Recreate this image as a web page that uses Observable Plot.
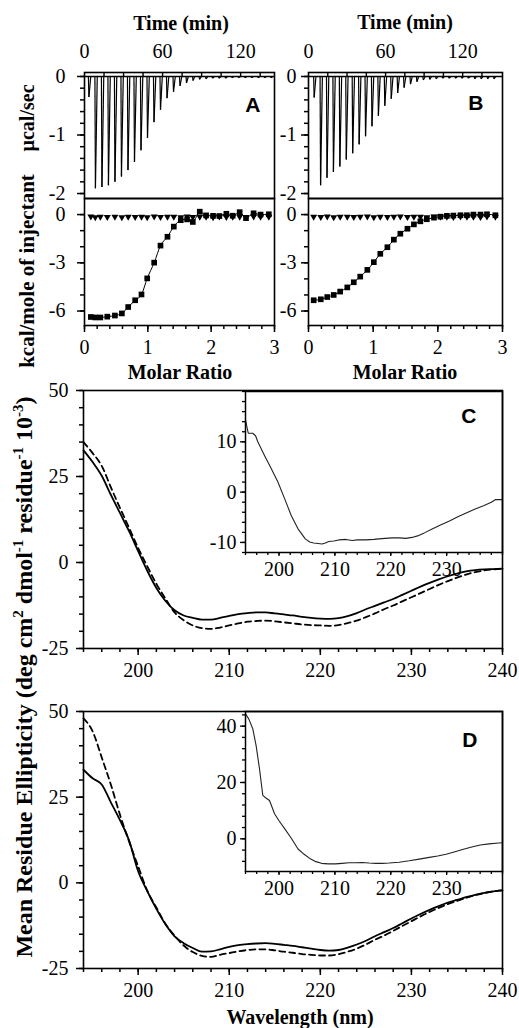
<!DOCTYPE html>
<html><head><meta charset="utf-8">
<script src="https://cdn.jsdelivr.net/npm/d3@7"></script>
<script src="https://cdn.jsdelivr.net/npm/@observablehq/plot@0.6"></script>
<style>
body{margin:0;background:#fff;}
#fig{position:relative;width:519px;height:1028px;overflow:hidden;font-family:"Liberation Serif","Times New Roman",serif;color:#000;background:#fff;}
.lbl{position:absolute;font-family:"Liberation Serif","Times New Roman",serif;font-weight:bold;font-size:20px;white-space:nowrap;transform:translate(-50%,-50%);line-height:1;}
.rot{transform:translate(-50%,-50%) rotate(-90deg);}
.mid{font-size:21px;}
.big{font-size:24px;}
.lbl sup{font-size:15px;vertical-align:9px;line-height:0;}
</style></head><body><div id="fig"></div>
<script>
// ---------------- DATA ----------------
// ITC thermograms (injection time, min; peak depth, µcal/sec)
const A_TIME = [3,8,13,18,23,28,33,38,43,48,53,58,63,68,73,78,83,88,93,98,103,108,113,118,123,128,133,138,143];
const A_PEAK = [-0.35,-1.91,-1.89,-1.86,-1.80,-1.71,-1.60,-1.46,-1.26,-1.05,-0.78,-0.57,-0.37,-0.26,-0.16,-0.11,-0.07,-0.05,-0.04,-0.03,-0.03,-0.03,-0.02,-0.02,-0.02,-0.02,-0.02,-0.02,-0.02];
const B_TIME = [4,9,14,19,24,29,34,39,44,49,54,59,64,69,74,79,84,89,94,99,104,109,114,119,124,129,134,139,144];
const B_PEAK = [-0.36,-1.86,-1.73,-1.63,-1.54,-1.42,-1.31,-1.16,-1.02,-0.85,-0.67,-0.50,-0.38,-0.28,-0.19,-0.13,-0.09,-0.06,-0.05,-0.04,-0.03,-0.03,-0.03,-0.03,-0.03,-0.04,-0.04,-0.04,-0.04];
// ITC isotherms (molar ratio; kcal/mole of injectant)
const A_MR = [0.10,0.17,0.25,0.36,0.48,0.59,0.69,0.80,0.90,0.99,1.10,1.20,1.31,1.41,1.52,1.62,1.71,1.82,1.92,2.03,2.13,2.24,2.34,2.45,2.55,2.67,2.78,2.91];
const A_HEAT = [-6.37,-6.40,-6.40,-6.35,-6.28,-6.15,-5.75,-5.33,-4.97,-3.97,-2.99,-1.93,-1.38,-0.75,-0.35,-0.30,-0.46,0.18,-0.05,-0.08,-0.09,0.05,-0.07,0.15,-0.22,0.08,0.00,0.02];
const A_CTRL = [-0.12,-0.16,-0.13,-0.15,-0.14,-0.16,-0.13,-0.15,-0.14,-0.16,-0.12,-0.15,-0.14,-0.13,-0.16,-0.12,-0.15,-0.13,-0.14,-0.16,-0.12,-0.15,-0.13,-0.14,-0.15,-0.12,-0.14,-0.13];
const B_MR = [0.08,0.19,0.29,0.39,0.49,0.60,0.70,0.80,0.91,1.01,1.11,1.22,1.32,1.42,1.53,1.63,1.73,1.83,1.94,2.04,2.14,2.24,2.35,2.45,2.55,2.66,2.76,2.89];
const B_HEAT = [-5.33,-5.27,-5.13,-5.00,-4.79,-4.53,-4.21,-3.86,-3.44,-2.96,-2.44,-2.03,-1.56,-1.19,-0.88,-0.61,-0.42,-0.29,-0.19,-0.13,-0.08,-0.06,-0.04,-0.04,0.00,0.00,0.02,-0.04];
const B_CTRL = [-0.13,-0.15,-0.12,-0.16,-0.14,-0.13,-0.15,-0.14,-0.12,-0.16,-0.13,-0.15,-0.14,-0.12,-0.15,-0.13,-0.14,-0.16,-0.12,-0.14,-0.13,-0.15,-0.12,-0.14,-0.13,-0.15,-0.12,-0.14];
// CD spectra (wavelength nm; mean residue ellipticity ×10^-3)
const WL = [194,195,196,197,198,199,200,201,202,203,204,205,206,207,208,209,210,211,212,213,214,215,216,217,218,219,220,221,222,223,224,225,226,227,228,229,230,231,232,233,234,235,236,237,238,239,240];
const C_SOLID = [32.6,29.2,25.2,19.7,14.4,9.1,3.3,-2.4,-7.4,-11.2,-13.9,-15.4,-16.1,-16.6,-16.6,-16.1,-15.5,-15.0,-14.7,-14.5,-14.5,-14.8,-15.1,-15.4,-15.8,-16.1,-16.3,-16.4,-16.2,-15.6,-14.7,-13.6,-12.6,-11.6,-10.6,-9.4,-8.2,-7.0,-5.9,-4.9,-4.0,-3.2,-2.6,-2.2,-2.0,-1.9,-1.8];
const C_DASH = [35.0,31.8,28.1,21.9,15.9,10.1,4.2,-1.1,-6.2,-10.5,-14.5,-16.8,-18.3,-19.1,-19.3,-18.9,-18.3,-17.7,-17.2,-17.0,-16.9,-17.1,-17.4,-17.7,-18.0,-18.2,-18.3,-18.4,-18.2,-17.6,-16.9,-15.9,-14.8,-13.6,-12.5,-11.3,-10.1,-8.9,-7.7,-6.5,-5.4,-4.4,-3.5,-2.8,-2.3,-2.0,-1.8];
const D_SOLID = [33.0,30.5,28.7,23.5,18.3,12.4,3.4,-2.4,-7.6,-12.1,-15.6,-17.6,-19.0,-20.1,-20.0,-19.4,-18.7,-18.2,-17.9,-17.7,-17.6,-17.8,-18.1,-18.4,-18.8,-19.2,-19.6,-19.8,-19.6,-18.9,-18.0,-16.9,-15.6,-14.4,-13.2,-11.8,-10.4,-9.1,-7.9,-6.8,-5.8,-5.0,-4.2,-3.5,-2.9,-2.5,-2.2];
const D_DASH = [48.0,44.2,36.6,28.7,19.9,12.1,4.8,-2.3,-7.2,-12.0,-15.4,-18.3,-20.2,-21.3,-21.6,-21.0,-20.5,-20.0,-19.6,-19.4,-19.4,-19.7,-20.1,-20.4,-20.8,-21.0,-21.2,-21.2,-20.8,-20.1,-19.2,-18.0,-16.6,-15.4,-14.0,-12.6,-11.2,-9.8,-8.5,-7.3,-6.2,-5.3,-4.4,-3.6,-3.0,-2.5,-2.2];
// insets (difference spectra)
const IC_WL = [194,194.5,195.3,195.8,196.2,197.4,198.6,199.8,201,202.2,203.4,204.7,205.5,206.2,207.0,207.7,208.3,208.9,209.8,210.7,212,213.1,214,215.5,217,217.9,219,220.3,221.5,222.7,223.8,224.8,226,227.5,229,230.6,232,233.6,235,236.6,238,238.7,240];
const IC_Y = [14.3,11.7,11.7,11.2,10.0,7.3,4.7,2.0,-1.3,-4.7,-7.3,-9.3,-9.9,-10.1,-10.2,-10.3,-10.1,-9.8,-9.7,-9.5,-9.4,-9.6,-9.5,-9.5,-9.4,-9.3,-9.2,-9.1,-9.1,-9.2,-9.0,-8.7,-8.1,-7.3,-6.5,-5.7,-4.9,-4.1,-3.4,-2.7,-2.0,-1.5,-1.5];
const ID_WL = [194,194.6,195.3,195.9,196.5,197.1,197.6,198.3,199.2,200,201,202.2,203.4,204.5,205.6,206.6,207.6,208.8,210.1,211.3,212.5,213.7,214.9,216.1,217.3,218.5,219.7,221.5,223.3,225.1,226.9,228.4,229.9,231.5,233,234.5,236,237.6,239.3,240];
const ID_Y = [44.4,42.5,39.1,33.1,24.9,15.4,14.6,13.6,8.9,6.4,3.6,0.2,-3.6,-5.5,-7.1,-8.1,-8.7,-8.9,-8.9,-8.7,-8.5,-8.5,-8.4,-8.6,-8.7,-8.7,-8.6,-8.3,-7.8,-7.2,-6.6,-6.1,-5.5,-4.6,-3.7,-2.9,-2.2,-1.8,-1.5,-1.4];
// tick labels
const TIME_TICKS = [0,60,120];
const TIME_BOX = [15,30,45,60,75,90,105,120,135];
const UCAL_TICKS = [0,-1,-2];
const KCAL_TICKS = [0,-3,-6];
const MR_TICKS = [0,1,2,3];
const WL_TICKS = [200,210,220,230,240];
const INSET_WL_TICKS = [200,210,220,230];
const MRE_TICKS = [-25,0,25,50];
const IC_TICKS = [-10,0,10];
const ID_TICKS = [0,20,40];

// ---------------- DRAWING ----------------
const fig = document.getElementById("fig");
const SERIF = "'Liberation Serif','Times New Roman',serif";
const STYLE = {background:"none", overflow:"visible", fontFamily:SERIF, fontSize:"20px", color:"black"};
const AX = {fontSize:20, fontFamily:SERIF, label:null};
const fmt = d => String(d);
const blank = () => "";
const LETTER = {frameAnchor:"top-right", lineAnchor:"top", textAnchor:"end", fontFamily:"'Liberation Sans',Arial,sans-serif", fontWeight:"bold", fontSize:21};
const TRI_DOWN = {draw(ctx, size){const a=Math.sqrt(size*4/Math.sqrt(3)), h=a*Math.sqrt(3)/2; ctx.moveTo(-a/2,-h/3); ctx.lineTo(a/2,-h/3); ctx.lineTo(0,2*h/3); ctx.closePath();}};
function place(svg, top){svg.style.position="absolute"; svg.style.left="0px"; svg.style.top=top+"px"; fig.appendChild(svg);}
function range(a,b,s){const r=[]; for(let v=a; v<=b+1e-9; v+=s) r.push(+v.toFixed(4)); return r;}

function itcTop(times, peaks, tmax, left, right, pad, letter, ldx, ldy){
  const top=72, bottom=198, mt=45, mb=4, ymax=0.068;
  const idx = times.map((_, i) => i);
  place(Plot.plot({
    width: right+10, height: mt+(bottom-top)+mb, marginLeft:left, marginRight:10, marginTop:mt, marginBottom:mb,
    x:{domain:[0,tmax]}, y:{domain:[-2.085,ymax]}, style:STYLE,
    marks:[
      Plot.ruleY([0], {strokeWidth:1.3}),
      Plot.ruleX(TIME_BOX.filter(t => t < tmax), {y1:0, y2:ymax, strokeWidth:1.4}),
      Plot.link(idx, {x1:i=>times[i], y1:0, x2:i=>times[i]+0.4, y2:i=>peaks[i], strokeWidth:1.2}),
      Plot.link(idx, {x1:i=>times[i]+0.4, y1:i=>peaks[i], x2:i=>times[i]+1.8, y2:0, strokeWidth:1.2}),
      Plot.axisX({...AX, anchor:"top", ticks:TIME_TICKS, tickSize:0, tickPadding:15, tickFormat:fmt}),
      Plot.axisY({...AX, ticks:UCAL_TICKS, tickSize:7, tickPadding:pad, tickFormat:fmt, strokeWidth:1.5}),
      Plot.axisY({...AX, ticks:range(-2,0,0.2), tickSize:4, tickFormat:blank, strokeWidth:1.5}),
      Plot.frame({strokeWidth:1.6}),
      Plot.text([letter], {...LETTER, dx:ldx, dy:ldy})
    ]
  }), top-mt);
}
function itcBottom(mr, heat, ctrl, left, right, pad){
  const top=198, bottom=325, mt=4, mb=60;
  place(Plot.plot({
    width: right+10, height: mt+(bottom-top)+mb, marginLeft:left, marginRight:10, marginTop:mt, marginBottom:mb,
    x:{domain:[0,3]}, y:{domain:[-6.9,1.0]}, style:STYLE,
    marks:[
      Plot.line(mr, {x:mr, y:heat, strokeWidth:1, curve:"monotone-x"}),
      Plot.dot(mr, {x:mr, y:ctrl, symbol:TRI_DOWN, r:2.6, fill:"black", stroke:null}),
      Plot.dot(mr, {x:mr, y:heat, symbol:"square", r:3.2, fill:"black", stroke:null}),
      Plot.axisX({...AX, ticks:MR_TICKS, tickSize:7, tickPadding:7, tickFormat:fmt, strokeWidth:1.5}),
      Plot.axisX({...AX, ticks:range(0,3,0.2), tickSize:4, tickFormat:blank, strokeWidth:1.5}),
      Plot.axisY({...AX, ticks:KCAL_TICKS, tickSize:7, tickPadding:pad, tickFormat:fmt, strokeWidth:1.5}),
      Plot.axisY({...AX, ticks:range(-6,0,1), tickSize:4, tickFormat:blank, strokeWidth:1.5}),
      Plot.frame({strokeWidth:1.6})
    ]
  }), top-mt);
}
function cdMain(top, bottom, solid, dash){
  const mt=10, mb=45;
  place(Plot.plot({
    width:512, height: mt+(bottom-top)+mb, marginLeft:83, marginRight:10, marginTop:mt, marginBottom:mb,
    x:{domain:[194,240]}, y:{domain:[-25,50]}, style:STYLE,
    marks:[
      Plot.line(WL, {x:WL, y:dash, strokeWidth:1.8, strokeDasharray:"6,4", curve:"monotone-x"}),
      Plot.line(WL, {x:WL, y:solid, strokeWidth:1.8, curve:"monotone-x"}),
      Plot.axisX({...AX, ticks:WL_TICKS, tickSize:7, tickPadding:7, tickFormat:fmt, strokeWidth:1.5}),
      Plot.axisX({...AX, ticks:range(194,240,2), tickSize:4, tickFormat:blank, strokeWidth:1.5}),
      Plot.axisY({...AX, ticks:MRE_TICKS, tickSize:7, tickPadding:8, tickFormat:fmt, strokeWidth:1.5}),
      Plot.axisY({...AX, ticks:range(-25,50,5), tickSize:4, tickFormat:blank, strokeWidth:1.5}),
      Plot.frame({strokeWidth:1.6})
    ]
  }), top-mt);
}
function cdInset(top, bottom, ydom, wl, vals, ticks, minor, letter, ldx, ldy){
  const mt=10, mb=40;
  place(Plot.plot({
    width:512, height: mt+(bottom-top)+mb, marginLeft:245, marginRight:10, marginTop:mt, marginBottom:mb,
    x:{domain:[194,240]}, y:{domain:ydom}, style:STYLE,
    marks:[
      Plot.line(wl, {x:wl, y:vals, strokeWidth:1.1, stroke:"#222"}),
      Plot.axisX({...AX, ticks:INSET_WL_TICKS, tickSize:4, tickPadding:5, tickFormat:fmt, strokeWidth:1.3}),
      Plot.axisX({...AX, ticks:range(194,240,2), tickSize:3, tickFormat:blank, strokeWidth:1.3}),
      Plot.axisY({...AX, ticks:ticks, tickSize:5, tickPadding:4, tickFormat:fmt, strokeWidth:1.3}),
      Plot.axisY({...AX, ticks:minor, tickSize:3, tickFormat:blank, strokeWidth:1.3}),
      Plot.frame({strokeWidth:1.5}),
      Plot.text([letter], {...LETTER, dx:ldx, dy:ldy})
    ]
  }), top-mt);
}

itcTop(A_TIME, A_PEAK, 146, 84, 274, 12, "A", -14, 25);
itcBottom(A_MR, A_HEAT, A_CTRL, 84, 274, 12);
itcTop(B_TIME, B_PEAK, 151, 308, 502, 5, "B", -19, 23);
itcBottom(B_MR, B_HEAT, B_CTRL, 308, 502, 5);
cdMain(390, 648, C_SOLID, C_DASH);
cdInset(391, 552, [-12,20], IC_WL, IC_Y, IC_TICKS, range(-12,20,2), "C", -26, 17);
cdMain(711, 968, D_SOLID, D_DASH);
cdInset(711, 871, [-11.6,45.2], ID_WL, ID_Y, ID_TICKS, range(-8,44,4), "D", -25, 21);

// axis titles
function label(html, x, y, cls){const d=document.createElement("div"); d.className="lbl"+(cls?" "+cls:""); d.innerHTML=html; d.style.left=x+"px"; d.style.top=y+"px"; fig.appendChild(d);}
label("Time (min)", 181, 23);
label("Time (min)", 405, 22);
label("Molar Ratio", 180, 372);
label("Molar Ratio", 405, 372);
label("µcal/sec", 27, 118, "rot");
label("kcal/mole of injectant", 27, 271, "rot mid");
label("Mean Residue Ellipticity (deg cm<sup>2</sup> dmol<sup>-1</sup> residue<sup>-1</sup> 10<sup>-3</sup>)", 24, 677, "rot big");
label("Wavelength (nm)", 300, 1017);
</script></body></html>
